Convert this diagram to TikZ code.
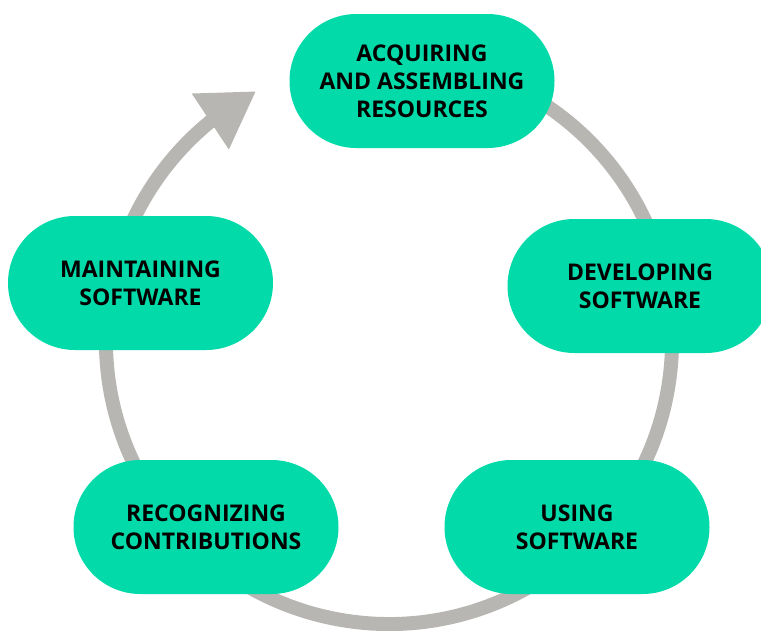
\documentclass[tikz,border=0pt]{standalone}
\usepackage{fontspec}
\setmainfont{Open Sans}
\usepackage{tikz}
\usetikzlibrary{arrows.meta}
\usetikzlibrary{bending}
\definecolor{mint}{RGB}{2,219,169}
\definecolor{ash}{RGB}{184,182,178}
\tikzset{stage/.style={fill=mint, rounded corners=66.9pt, minimum width=265pt,
    minimum height=134pt, align=center, text=black,
    font=\bfseries\fontsize{23}{28}\selectfont}}
\tikzset{ring/.style={draw=ash, line width=14pt,
    -{Triangle[length=55pt,width=63pt,flex]}}}

\begin{document}
\begin{tikzpicture}[x=1pt,y=-1pt]
        \useasboundingbox (0,0) rectangle (761,630);

        \coordinate (ctr) at (389,341);
        \coordinate (beg) at ([shift={(-80:283)}]ctr);
        \draw[ring] (beg) arc[start angle=-80, end angle=242, radius=283];

        \node[stage] (acq) at (422,81) {ACQUIRING\\AND ASSEMBLING\\RESOURCES};
        \node[stage] (dev) at (640,286) {DEVELOPING\\SOFTWARE};
        \node[stage] (use) at (577,527) {USING\\SOFTWARE};
        \node[stage] (rec) at (206,527) {RECOGNIZING\\CONTRIBUTIONS};
        \node[stage] (mnt) at (140.5,283) {MAINTAINING\\SOFTWARE};
\end{tikzpicture}
\end{document}
